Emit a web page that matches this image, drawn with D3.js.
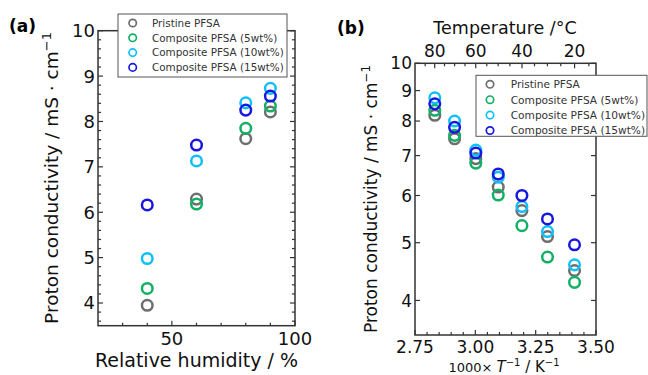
<!DOCTYPE html>
<html><head><meta charset="utf-8">
<script src="https://cdn.jsdelivr.net/npm/d3@7"></script>
<style>body{margin:0;background:#fff}svg{display:block}text{font-family:"DejaVu Sans",sans-serif}</style>
</head><body>
<svg id="c" width="648" height="375"></svg>
<script>
// ---------- data ----------
const seriesNames = ["Pristine PFSA","Composite PFSA (5wt%)","Composite PFSA (10wt%)","Composite PFSA (15wt%)"];
const seriesColors = ["#6e6e6e","#12b064","#0fc0f8","#1717e0"];
// panel (a): relative humidity
const rh = [40, 60, 80, 90];
const rhPristine = [3.95, 6.29, 7.62, 8.21];
const rh5 = [4.32, 6.18, 7.85, 8.34];
const rh10 = [4.98, 7.13, 8.41, 8.73];
const rh15 = [6.16, 7.48, 8.25, 8.56];
const aXTicks = [50, 100];
const aYTicks = [4, 5, 6, 7, 8, 9, 10];
// panel (b): 1000/T
const invT = [2.832, 2.914, 3.002, 3.095, 3.193, 3.299, 3.411];
const tPristine = [8.18, 7.47, 6.92, 6.20, 5.66, 5.12, 4.49];
const t5 = [8.34, 7.57, 6.80, 6.01, 5.34, 4.73, 4.29];
const t10 = [8.75, 8.00, 7.15, 6.44, 5.75, 5.22, 4.59];
const t15 = [8.55, 7.81, 7.07, 6.52, 6.00, 5.48, 4.96];
const bXTicks = [2.75, 3.00, 3.25, 3.50];
const bYTicks = [4, 5, 6, 7, 8, 9, 10];
const tempTicks = [80, 60, 40, 20];
const tempMinor = [85, 75, 70, 65, 55, 50, 45, 35, 30, 25, 15];

const svg = d3.select("#c");
const axisCol = "#333";

function drawPanel(o) {
  const g = svg.append("g");
  const x = o.x, y = o.y;
  const [x0, x1] = x.range(), [y0, y1] = y.range();
  g.append("rect").attr("x", x0).attr("y", y1).attr("width", x1 - x0).attr("height", y0 - y1)
    .attr("fill", "none").attr("stroke", axisCol).attr("stroke-width", 1.5);
  const tk = g.append("g").attr("stroke", axisCol).attr("stroke-width", 1.2);
  o.xMajor.forEach(v => { tk.append("line").attr("x1", x(v)).attr("x2", x(v)).attr("y1", y0).attr("y2", y0 - 5); });
  o.xMinor.forEach(v => { tk.append("line").attr("x1", x(v)).attr("x2", x(v)).attr("y1", y0).attr("y2", y0 - 3); });
  o.yMajor.forEach(v => {
    tk.append("line").attr("x1", x0).attr("x2", x0 + 5).attr("y1", y(v)).attr("y2", y(v));
    tk.append("line").attr("x1", x1).attr("x2", x1 - 5).attr("y1", y(v)).attr("y2", y(v));
  });
  o.yMinor.forEach(v => {
    tk.append("line").attr("x1", x0).attr("x2", x0 + 3).attr("y1", y(v)).attr("y2", y(v));
    tk.append("line").attr("x1", x1).attr("x2", x1 - 3).attr("y1", y(v)).attr("y2", y(v));
  });
  o.xMajor.forEach(v => {
    g.append("text").attr("x", x(v)).attr("y", y0 + o.xLabOff).attr("text-anchor", "middle")
      .attr("font-size", o.tickFs).attr("fill", "#111").text(o.xFmt(v));
  });
  o.yMajor.forEach(v => {
    g.append("text").attr("x", x0 - 3).attr("y", y(v)).attr("dy", "0.36em").attr("text-anchor", "end")
      .attr("font-size", o.tickFs).attr("fill", "#111").text(o.yFmt(v));
  });
  o.series.forEach((s, i) => {
    g.append("g").selectAll("circle").data(s).join("circle")
      .attr("cx", (d, j) => x(o.xs[j])).attr("cy", d => y(d)).attr("r", 5.3)
      .attr("fill", "none").attr("stroke", seriesColors[i]).attr("stroke-width", 2.5);
  });
  return g;
}

function yLabel(g, cx, cy, fs) {
  const t = g.append("text").attr("transform", `translate(${cx},${cy}) rotate(-90)`)
    .attr("text-anchor", "middle").attr("font-size", fs).attr("fill", "#111");
  t.append("tspan").text("Proton conductivity / mS \u00B7 cm");
  t.append("tspan").attr("font-size", fs * 0.7).attr("dy", -fs * 0.4).text("\u22121");
}

function legend(g, lx, ly, w, h, ex, ey0, dy, tx, fs) {
  g.append("rect").attr("x", lx).attr("y", ly).attr("width", w).attr("height", h)
    .attr("fill", "#fff").attr("stroke", "#555").attr("stroke-width", 1);
  seriesNames.forEach((n, i) => {
    g.append("circle").attr("cx", ex).attr("cy", ey0 + i * dy).attr("r", 3.7)
      .attr("fill", "none").attr("stroke", seriesColors[i]).attr("stroke-width", 1.7);
    g.append("text").attr("x", tx).attr("y", ey0 + i * dy).attr("dy", "0.36em")
      .attr("font-size", fs).attr("fill", "#333").text(n);
  });
}

// ---------- panel (a) ----------
const xa = d3.scaleLinear().domain([20, 100]).range([98, 295]);
const ya = d3.scaleLinear().domain([3.5, 10]).range([325.7, 30.7]);
const ga = drawPanel({
  x: xa, y: ya, xs: rh, series: [rhPristine, rh5, rh10, rh15],
  xMajor: aXTicks, xMinor: d3.range(30, 100, 10).filter(v => v !== 50),
  yMajor: aYTicks, yMinor: d3.range(3.6, 10, 0.2).filter(v => Math.abs(v - Math.round(v)) > 0.01),
  xFmt: d => d, yFmt: d => d, tickFs: 18, xLabOff: 19
});
ga.append("text").attr("x", (98 + 295) / 2).attr("y", 367).attr("text-anchor", "middle")
  .attr("font-size", 19).attr("fill", "#111").text("Relative humidity / %");
yLabel(ga, 58, 178, 18.5);
legend(ga, 118, 14, 169, 63, 132.7, 23, 14.8, 152, 10.4);
svg.append("text").attr("x", 9).attr("y", 32).attr("font-size", 17).attr("font-weight", "bold").text("(a)");

// ---------- panel (b) ----------
const xb = d3.scaleLinear().domain([2.75, 3.5]).range([415, 596]);
const yb = d3.scaleLog().domain([3.5, 10]).range([335, 63.3]);
const gb = drawPanel({
  x: xb, y: yb, xs: invT, series: [tPristine, t5, t10, t15],
  xMajor: bXTicks, xMinor: d3.range(2.80, 3.5, 0.05).filter(v => Math.abs(v * 4 - Math.round(v * 4)) > 0.01),
  yMajor: bYTicks, yMinor: [],
  xFmt: d3.format(".2f"), yFmt: d => d, tickFs: 17, xLabOff: 18
});
const toInv = T => 1000 / (T + 273.15);
tempTicks.forEach(T => {
  gb.append("line").attr("x1", xb(toInv(T))).attr("x2", xb(toInv(T))).attr("y1", 63.3).attr("y2", 68.3)
    .attr("stroke", axisCol).attr("stroke-width", 1.2);
  gb.append("text").attr("x", xb(toInv(T))).attr("y", 57).attr("text-anchor", "middle")
    .attr("font-size", 17).attr("fill", "#111").text(T);
});
tempMinor.forEach(T => {
  gb.append("line").attr("x1", xb(toInv(T))).attr("x2", xb(toInv(T))).attr("y1", 63.3).attr("y2", 66.3)
    .attr("stroke", axisCol).attr("stroke-width", 1.2);
});
gb.append("text").attr("x", 505).attr("y", 34).attr("text-anchor", "middle")
  .attr("font-size", 17.5).attr("fill", "#111").text("Temperature /\u00B0C");
const xl = gb.append("text").attr("x", 504).attr("y", 372).attr("text-anchor", "middle").attr("fill", "#111").attr("font-size", 15);
xl.append("tspan").attr("font-size", 13).text("1000\u00D7 ");
xl.append("tspan").attr("font-style", "italic").text("T");
xl.append("tspan").attr("font-size", 10).attr("dy", -6).text("\u22121");
xl.append("tspan").attr("dy", 6).text(" / K");
xl.append("tspan").attr("font-size", 10).attr("dy", -6).text("\u22121");
yLabel(gb, 377, 199, 17);
legend(gb, 476, 75.3, 171, 61, 490, 84.3, 15.4, 510.7, 10.6);
svg.append("text").attr("x", 337).attr("y", 34).attr("font-size", 17).attr("font-weight", "bold").text("(b)");
</script>
</body></html>
